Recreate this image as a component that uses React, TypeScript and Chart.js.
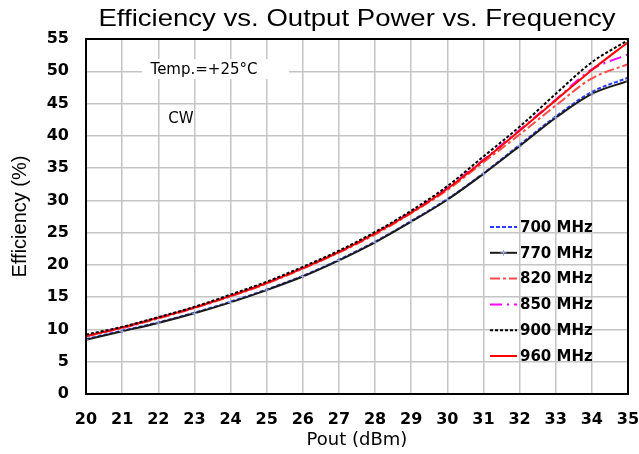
import React, { useEffect, useRef } from 'react';
import { Chart, registerables } from 'chart.js';

Chart.register(...registerables);

const pout = [20, 21, 22, 23, 24, 25, 26, 27, 28, 29, 30, 31, 32, 33, 34, 35];
const eff700 = [8.5, 9.8, 11.1, 12.6, 14.3, 16.2, 18.3, 20.8, 23.6, 26.8, 30.2, 34.2, 38.6, 43.0, 46.8, 49.0];
const eff770 = [8.4, 9.7, 11.0, 12.5, 14.2, 16.1, 18.2, 20.7, 23.5, 26.7, 30.1, 34.1, 38.4, 42.8, 46.5, 48.5];
const eff820 = [8.9, 10.2, 11.7, 13.3, 15.1, 17.1, 19.4, 21.9, 24.7, 28.0, 31.6, 35.9, 40.2, 44.7, 48.9, 51.1];
const eff850 = [9.0, 10.3, 11.8, 13.4, 15.2, 17.2, 19.5, 22.0, 24.9, 28.2, 31.9, 36.3, 40.9, 45.6, 50.3, 52.6];
const eff900 = [9.2, 10.4, 11.9, 13.5, 15.4, 17.4, 19.7, 22.2, 25.1, 28.4, 32.2, 36.8, 41.4, 46.5, 51.4, 54.8];
const eff960 = [9.0, 10.3, 11.8, 13.4, 15.2, 17.2, 19.5, 22.0, 24.9, 28.1, 31.8, 36.2, 40.8, 45.5, 50.2, 54.5];
const seriesNames = ['700 MHz', '770 MHz', '820 MHz', '850 MHz', '900 MHz', '960 MHz'];
const seriesValues = [eff700, eff770, eff820, eff850, eff900, eff960];
const drawOrder = [2, 1, 3, 3, 0, 1];

const titleText = 'Efficiency vs. Output Power vs. Frequency';
const xTitle = 'Pout (dBm)';
const yTitle = 'Efficiency (%)';
const tempText = 'Temp.=+25°C';
const modeText = 'CW';

const styles = [
  { color: '#2a3cff', dash: [4, 2], width: 2 },
  { color: '#1a1a1a', dash: [], width: 2 },
  { color: '#ff4a4a', dash: [10, 3, 3, 3], width: 2 },
  { color: '#ff00ff', dash: [12, 5, 2, 5], width: 2 },
  { color: '#000000', dash: [3, 2], width: 2 },
  { color: '#ff0000', dash: [], width: 2 },
];

export default function App() {
  const ref = useRef<HTMLCanvasElement>(null);

  useEffect(() => {
    const canvas = ref.current;
    if (!canvas) return;

    const overlay = {
      id: 'overlay',
      beforeDatasetsDraw(chart: any) {
        const { ctx, chartArea: a } = chart;
        ctx.save();
        ctx.fillStyle = '#ffffff';
        ctx.fillRect(a.left + 56, a.top + 20, 147, 20);
        ctx.restore();
      },
      afterDatasetsDraw(chart: any) {
        const { ctx, chartArea: a } = chart;
        ctx.save();
        // frame
        ctx.strokeStyle = '#000000';
        ctx.lineWidth = 2;
        ctx.setLineDash([]);
        ctx.strokeRect(a.left, a.top, a.right - a.left, a.bottom - a.top);

        // title (slightly wide glyphs)
        ctx.fillStyle = '#000000';
        ctx.font = '24px "Liberation Sans", Arial, sans-serif';
        ctx.textAlign = 'center';
        ctx.textBaseline = 'middle';
        const w = ctx.measureText(titleText).width;
        const sx = 517 / w;
        ctx.save();
        ctx.translate((a.left + a.right) / 2, 19);
        ctx.scale(sx, 1);
        ctx.fillText(titleText, 0, 0);
        ctx.restore();

        // annotations
        ctx.font = '15px "DejaVu Sans", sans-serif';
        ctx.textAlign = 'center';
        ctx.fillText(tempText, a.left + 118, a.top + 31);
        ctx.fillText(modeText, a.left + 95, a.top + 80);

        // legend
        ctx.font = 'bold 15px "DejaVu Sans", sans-serif';
        ctx.textAlign = 'left';
        const lx0 = 490;
        const lx1 = 517;
        for (let i = 0; i < seriesNames.length; i++) {
          const y = 227 + i * 25.8;
          const s = styles[i];
          ctx.strokeStyle = s.color;
          ctx.lineWidth = s.width;
          ctx.setLineDash(s.dash);
          ctx.beginPath();
          ctx.moveTo(lx0, y);
          ctx.lineTo(lx1, y);
          ctx.stroke();
          if (i === 1) {
            ctx.setLineDash([]);
            ctx.strokeStyle = '#9aa8d8';
            ctx.lineWidth = 1;
            ctx.beginPath();
            const cx = (lx0 + lx1) / 2;
            ctx.moveTo(cx - 3, y);
            ctx.lineTo(cx + 3, y);
            ctx.moveTo(cx, y - 3);
            ctx.lineTo(cx, y + 3);
            ctx.stroke();
          }
          ctx.fillStyle = '#000000';
          ctx.fillText(seriesNames[i], lx1 + 3, y + 1);
        }
        ctx.restore();
      },
    };

    const chart = new Chart(canvas, {
      type: 'line',
      data: {
        datasets: seriesValues.map((vals, i) => ({
          label: seriesNames[i],
          data: vals.map((v, j) => ({ x: pout[j], y: v })),
          order: drawOrder[i],
          borderColor: styles[i].color,
          borderWidth: styles[i].width,
          borderDash: styles[i].dash,
          pointRadius: i === 1 ? 2.5 : 0,
          pointStyle: 'cross',
          pointBorderColor: '#9aa8d8',
          pointBorderWidth: 1,
          fill: false,
          cubicInterpolationMode: 'monotone' as const,
        })),
      },
      options: {
        animation: false,
        responsive: false,
        layout: { padding: { left: 0, top: 39, right: 11, bottom: 0 } },
        plugins: {
          legend: { display: false },
          title: { display: false },
          tooltip: { enabled: false },
        },
        scales: {
          x: {
            type: 'linear',
            min: 20,
            max: 35,
            ticks: {
              stepSize: 1,
              color: '#000000',
              padding: 16,
              font: { family: '"DejaVu Sans", sans-serif', size: 16, weight: 'bold' },
              maxRotation: 0,
            },
            grid: { color: '#c4c4c4', lineWidth: 1.5, drawTicks: false },
            border: { display: true, color: '#000000', width: 2 },
            title: {
              display: true,
              text: xTitle,
              color: '#000000',
              font: { family: '"DejaVu Sans", sans-serif', size: 18 },
              padding: { top: 0, bottom: 3 },
            },
            afterFit(scale: any) {
              scale.height = 60;
              scale.paddingLeft = 0;
              scale.paddingRight = 0;
            },
          },
          y: {
            min: 0,
            max: 55,
            ticks: {
              stepSize: 5,
              color: '#000000',
              padding: 17,
              font: { family: '"DejaVu Sans", sans-serif', size: 16, weight: 'bold' },
            },
            grid: { color: '#c4c4c4', lineWidth: 1.5, drawTicks: false },
            border: { display: true, color: '#000000', width: 2 },
            title: {
              display: true,
              text: yTitle,
              color: '#000000',
              font: { family: '"Liberation Sans", Arial, sans-serif', size: 20 },
              padding: { top: 8, bottom: 0 },
            },
            afterFit(scale: any) {
              scale.width = 86;
              scale.paddingTop = 0;
              scale.paddingBottom = 0;
            },
          },
        },
      },
      plugins: [overlay],
    });

    return () => chart.destroy();
  }, []);

  return (
    <div style={{ position: 'fixed', left: 0, top: 0, width: 639, height: 454, background: '#ffffff' }}>
      <canvas ref={ref} width={639} height={454} style={{ width: 639, height: 454, display: 'block' }} />
    </div>
  );
}
